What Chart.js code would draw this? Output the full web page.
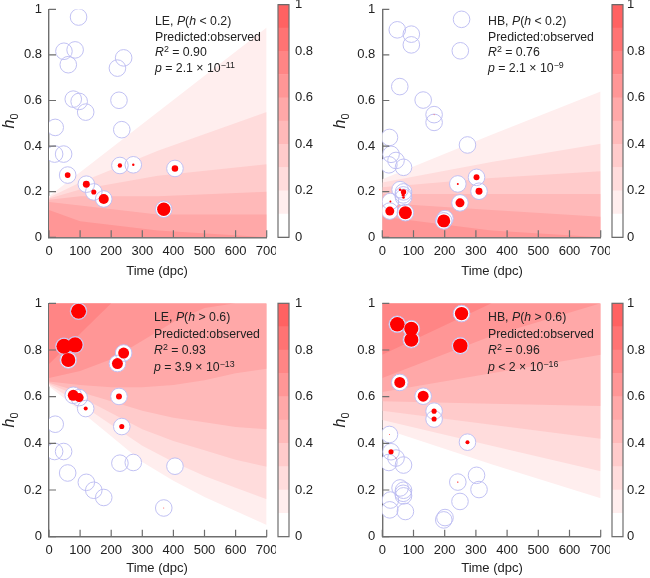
<!DOCTYPE html>
<html>
<head>
<meta charset="utf-8">
<script src="https://cdn.jsdelivr.net/npm/chart.js@4.4.1/dist/chart.umd.min.js"></script>
<style>
body{margin:0;background:#fff;font-family:"Liberation Sans",Arial,Helvetica,sans-serif;color:#222}
#wrap{position:relative;width:650px;height:578px;overflow:hidden;background:#fff}
canvas{position:absolute}
.note{position:absolute;font-size:12.3px;white-space:nowrap}
.note sup{font-size:0.72em;line-height:0;vertical-align:0.5em}
.xt{position:absolute;font-size:13px;transform:translate(-50%,-50%);white-space:nowrap}
.yt{position:absolute;font-size:16px;transform:translate(-50%,-50%) rotate(-90deg);white-space:nowrap}
.yt sub{font-size:0.68em;font-style:normal;line-height:0}
</style>
</head>
<body>
<div id="wrap">
<canvas id="m1" width="276" height="262" style="left:0;top:0"></canvas>
<canvas id="m2" width="276" height="262" style="left:334px;top:0"></canvas>
<canvas id="m3" width="276" height="272" style="left:0;top:290px"></canvas>
<canvas id="m4" width="276" height="272" style="left:334px;top:290px"></canvas>
<canvas id="c1" width="48" height="245" style="left:276px;top:0"></canvas>
<canvas id="c2" width="40" height="245" style="left:610px;top:0"></canvas>
<canvas id="c3" width="48" height="256" style="left:276px;top:290px"></canvas>
<canvas id="c4" width="40" height="256" style="left:610px;top:290px"></canvas>

<div class="note" style="left:155px;top:14px;line-height:15.5px">LE, <i>P</i>(<i>h</i> &lt; 0.2)<br>Predicted:observed<br><i>R</i><sup>2</sup> = 0.90<br><i>p</i> = 2.1 × 10<sup>−11</sup></div>
<div class="note" style="left:488px;top:14px;line-height:15.5px">HB, <i>P</i>(<i>h</i> &lt; 0.2)<br>Predicted:observed<br><i>R</i><sup>2</sup> = 0.76<br><i>p</i> = 2.1 × 10<sup>−9</sup></div>
<div class="note" style="left:154px;top:309px;line-height:16.7px">LE, <i>P</i>(<i>h</i> &gt; 0.6)<br>Predicted:observed<br><i>R</i><sup>2</sup> = 0.93<br><i>p</i> = 3.9 × 10<sup>−13</sup></div>
<div class="note" style="left:488px;top:309px;line-height:16.7px">HB, <i>P</i>(<i>h</i> &gt; 0.6)<br>Predicted:observed<br><i>R</i><sup>2</sup> = 0.96<br><i>p</i> &lt; 2 × 10<sup>−16</sup></div>

<div class="xt" style="left:157px;top:270px">Time (dpc)</div>
<div class="xt" style="left:492px;top:270px">Time (dpc)</div>
<div class="xt" style="left:157px;top:567px">Time (dpc)</div>
<div class="xt" style="left:492px;top:567px">Time (dpc)</div>
<div class="yt" style="left:9px;top:121px"><i>h</i><sub>0</sub></div>
<div class="yt" style="left:340px;top:121px"><i>h</i><sub>0</sub></div>
<div class="yt" style="left:9px;top:420px"><i>h</i><sub>0</sub></div>
<div class="yt" style="left:340px;top:420px"><i>h</i><sub>0</sub></div>
</div>

<script>
// samples, LE
const leTime = [95,48,84,62,78,97,118,20,18,47,225,220,240,234,60,120,144,176,228,271,405,369];
const leH0 = [0.966,0.816,0.822,0.757,0.606,0.596,0.549,0.482,0.365,0.365,0.601,0.742,0.787,0.472,0.273,0.233,0.199,0.168,0.315,0.318,0.302,0.123];
const leLowPred = [0,0,0,0,0,0,0,0,0,0,0,0,0,0,0.1,0.15,0.08,0.31,0.06,0.018,0.13,0.55];
const leHighPred = [0.7,0.7,0.7,0.62,0.37,0.25,0.05,0,0,0,0.11,0.37,0.37,0.08,0,0,0,0,0,0,0,0.003];

// samples, HB
const hbTime = [254,48,93,93,250,56,131,166,166,23,273,28,44,21,68,57,68,67,68,26,24,74,242,302,310,249,197,201];
const hbH0 = [0.956,0.91,0.891,0.844,0.818,0.661,0.602,0.538,0.504,0.438,0.405,0.364,0.337,0.318,0.307,0.209,0.199,0.186,0.175,0.157,0.115,0.108,0.234,0.263,0.202,0.151,0.072,0.082];
const hbLowPred = [0,0,0,0,0,0,0,0.003,0,0,0,0,0,0,0,0.02,0.09,0.036,0.02,0.012,0.25,0.52,0.012,0.11,0.15,0.25,0.52,0];
const hbHighPred = [0.55,0.66,0.62,0.62,0.66,0.37,0.37,0.08,0.08,0.003,0.05,0.08,0.003,0,0,0,0,0,0,0,0,0,0.006,0,0,0,0,0];

// probability contour levels and the h0 where each is crossed
const levels = [0.1,0.2,0.3,0.4,0.5,0.6,0.7];

const leLowT = [0,100,350,700];
const leLowLines = [
  [0.18,0.285,0.55,0.92],
  [0.175,0.24,0.38,0.55],
  [0.17,0.21,0.27,0.32],
  [0.165,0.18,0.18,0.2],
  [0.155,0.14,0.1,0.1],
  [0.12,0.07,0.03,0],
  [0,0,0,0]
];

const hbLowT = [0,350,700];
const hbLowLines = [
  [0.255,0.45,0.64],
  [0.24,0.33,0.41],
  [0.22,0.26,0.29],
  [0.19,0.19,0.19],
  [0.15,0.12,0.09],
  [0.09,0.03,0],
  [0,0,0]
];

const leHighT = [0,100,200,300,400,500,600,700];
const leHighLines = [
  [0.645,0.54,0.43,0.32,0.24,0.17,0.11,0.05],
  [0.65,0.57,0.48,0.39,0.32,0.26,0.21,0.16],
  [0.655,0.6,0.53,0.46,0.41,0.37,0.33,0.3],
  [0.66,0.62,0.58,0.54,0.51,0.49,0.47,0.46],
  [0.665,0.65,0.64,0.64,0.65,0.67,0.7,0.72],
  [0.68,0.71,0.76,0.84,0.92,0.98,1,1],
  [0.74,0.87,1,1,1,1,1,1]
];

const hbHighT = [0,350,700];
const hbHighLines = [
  [0.465,0.31,0.165],
  [0.5,0.39,0.28],
  [0.54,0.48,0.42],
  [0.58,0.57,0.56],
  [0.62,0.7,0.78],
  [0.68,0.86,1],
  [0.78,1,1]
];

const barEdges = [0,0.1,0.2,0.3,0.4,0.5,0.6,0.7,0.8,0.9,1];
const xTicks = [0,100,200,300,400,500,600,700];

Chart.defaults.font.family = '"Liberation Sans", Arial, Helvetica, sans-serif';
Chart.defaults.font.size = 13;
Chart.defaults.color = '#222';
Chart.defaults.animation = false;

function bandColor(v){
  if (v < 0.1) return '#ffffff';
  const g = Math.round(255 - 175*v);
  return 'rgb(255,' + g + ',' + g + ')';
}

function dotRadius(p){
  return p > 0 ? 9*Math.sqrt(p) : 0;
}

const fmt = v => String(Number(Number(v).toFixed(2)));

const innerTicks = {
  id:'innerTicks',
  afterDraw(chart){
    const {ctx, chartArea:a, scales:{x, y}} = chart;
    ctx.save();
    ctx.strokeStyle = '#6e6e6e';
    ctx.lineWidth = 1.2;
    ctx.beginPath();
    x.ticks.forEach(t => {
      const px = x.getPixelForValue(t.value);
      ctx.moveTo(px, a.bottom); ctx.lineTo(px, a.bottom - 7);
    });
    y.ticks.forEach(t => {
      const py = y.getPixelForValue(t.value);
      ctx.moveTo(a.left, py); ctx.lineTo(a.left + 7, py);
    });
    ctx.stroke();
    ctx.restore();
  }
};

const barFrame = {
  id:'barFrame',
  afterDraw(chart){
    const {ctx, chartArea:a} = chart;
    ctx.save();
    ctx.strokeStyle = '#6e6e6e';
    ctx.lineWidth = 1.2;
    ctx.strokeRect(a.left, a.top, a.right - a.left, a.bottom - a.top);
    ctx.restore();
  }
};

function drawPanel(id, time, h0, pred, tGrid, lines, fillTo, geo){
  const datasets = [];

  levels.forEach((lv, k) => {
    datasets.push({
      data: tGrid.map((t, i) => ({x:t, y:lines[k][i]})),
      fill: fillTo,
      backgroundColor: bandColor(lv),
      borderWidth: 0,
      pointRadius: 0,
      tension: 0,
      order: 100 - k
    });
  });

  const pts = time.map((t, i) => ({x:t, y:h0[i]}));

  datasets.push({
    data: pts, showLine:false, order:3,
    pointRadius:8.3, pointBackgroundColor:'#ffffff', pointBorderWidth:0
  });
  datasets.push({
    data: pts, showLine:false, order:2,
    pointRadius:8.3, pointBackgroundColor:'rgba(0,0,0,0)',
    pointBorderColor:'rgba(190,190,242,0.95)', pointBorderWidth:1
  });
  datasets.push({
    data: pts, showLine:false, order:1,
    pointRadius: ctx => dotRadius(pred[ctx.dataIndex]),
    pointBackgroundColor:'#ff0000', pointBorderWidth:0
  });

  new Chart(document.getElementById(id), {
    type:'line',
    data:{datasets:datasets},
    options:{
      responsive:false,
      devicePixelRatio:1,
      events:[],
      layout:{padding:{top:geo.top, right:geo.right, left:0, bottom:0}},
      plugins:{legend:{display:false}, tooltip:{enabled:false}},
      scales:{
        x:{
          type:'linear', min:0, max:700,
          afterBuildTicks: s => { s.ticks = xTicks.map(v => ({value:v})); },
          ticks:{padding:6, color:'#222', font:{size:13}, callback:fmt},
          grid:{display:false, drawTicks:false, tickLength:0},
          border:{display:true, color:'#6e6e6e', width:1.4},
          afterFit: s => { s.height = geo.xh; s.paddingLeft = 0; s.paddingRight = 0; }
        },
        y:{
          min:0, max:1,
          ticks:{stepSize:0.2, padding:7, color:'#222', font:{size:13}, callback:fmt},
          grid:{display:false, drawTicks:false, tickLength:0},
          border:{display:true, color:'#6e6e6e', width:1.4},
          afterFit: s => { s.width = geo.yw; s.paddingTop = 0; s.paddingBottom = 0; }
        }
      }
    },
    plugins:[innerTicks]
  });
}

function drawBar(id, geo){
  const datasets = [];
  for (let i = 0; i < barEdges.length - 1; i++) {
    datasets.push({
      data:[[barEdges[i], barEdges[i+1]]],
      backgroundColor: bandColor(barEdges[i]),
      borderWidth:0,
      barPercentage:1, categoryPercentage:1, grouped:false
    });
  }
  new Chart(document.getElementById(id), {
    type:'bar',
    data:{labels:[''], datasets:datasets},
    options:{
      responsive:false,
      devicePixelRatio:1,
      events:[],
      layout:{padding:{top:geo.top, bottom:geo.bottom, left:2, right:0}},
      plugins:{legend:{display:false}, tooltip:{enabled:false}},
      scales:{
        x:{display:false},
        y:{
          position:'right', min:0, max:1, z:1,
          ticks:{stepSize:0.2, padding:geo.pad, color:'#222', font:{size:13}, callback:fmt},
          grid:{color:'#3a3a3a', lineWidth:1, drawTicks:false, tickLength:0},
          border:{display:false},
          afterFit: s => { s.width = geo.yw; s.paddingTop = 0; s.paddingBottom = 0; }
        }
      }
    },
    plugins:[barFrame]
  });
}

drawPanel('m1', leTime, leH0, leLowPred, leLowT, leLowLines, 'origin', {top:4.7, right:3, yw:49, xh:24.7});
drawPanel('m2', hbTime, hbH0, hbLowPred, hbLowT, hbLowLines, 'origin', {top:4.7, right:2.7, yw:48.3, xh:24.7});
drawPanel('m3', leTime, leH0, leHighPred, leHighT, leHighLines, 'end', {top:13.3, right:3, yw:49, xh:25.3});
drawPanel('m4', hbTime, hbH0, hbHighPred, hbHighT, hbHighLines, 'end', {top:13.3, right:2.7, yw:48.3, xh:25.3});

drawBar('c1', {top:4.7, bottom:7.7, yw:35, pad:6});
drawBar('c2', {top:4.7, bottom:7.7, yw:27, pad:4});
drawBar('c3', {top:13.3, bottom:9.3, yw:35, pad:6});
drawBar('c4', {top:13.3, bottom:9.3, yw:27, pad:4});
</script>
</body>
</html>
